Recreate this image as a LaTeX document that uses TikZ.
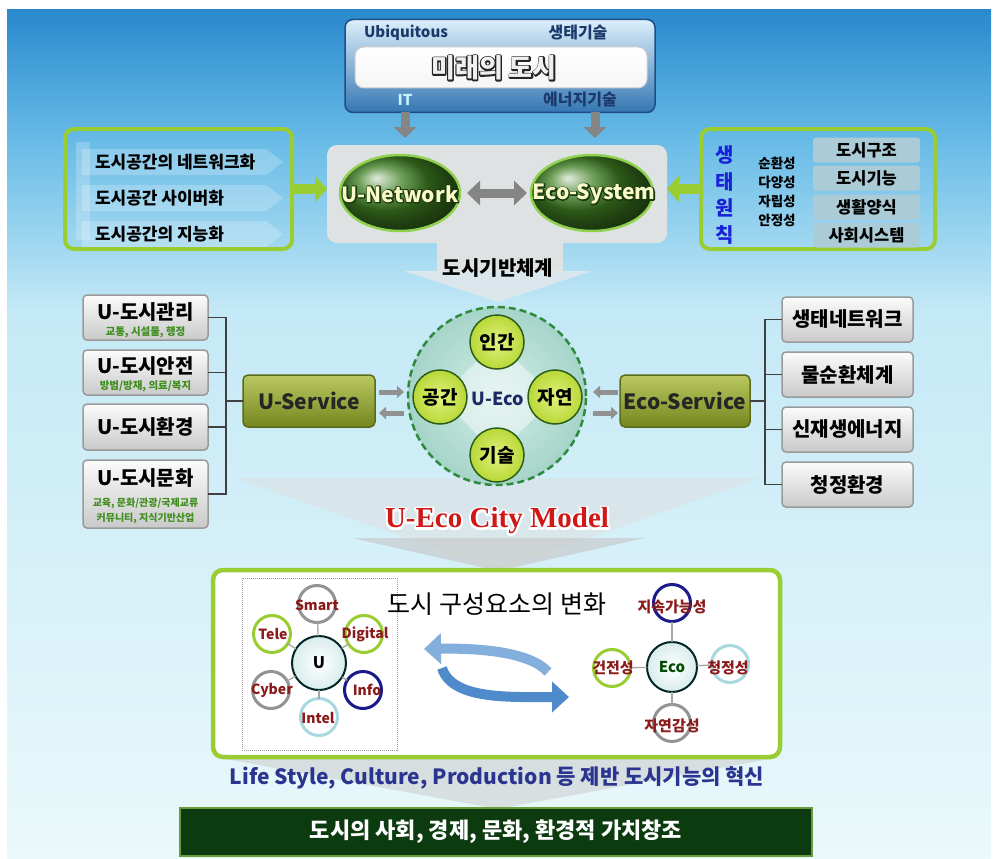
\documentclass[tikz,border=0pt]{standalone}
\usepackage{fontspec}
\setmainfont{Noto Sans CJK KR}
\newfontfamily\serifb{Liberation Serif}
\usetikzlibrary{shapes.geometric,arrows.meta}
\definecolor{bgA}{HTML}{2A89CD}
\definecolor{bgB}{HTML}{68BBE7}
\definecolor{bgC}{HTML}{C4E9F6}
\definecolor{bgD}{HTML}{EAF9FB}
\definecolor{tbTop}{HTML}{DCEFFA}
\definecolor{tbMid}{HTML}{9CC8E8}
\definecolor{tbBot}{HTML}{3576B3}
\definecolor{tbLine}{HTML}{1E4E88}
\definecolor{navyT}{HTML}{1B3A6B}
\definecolor{itC}{HTML}{C4F2FF}
\definecolor{arrG}{HTML}{858585}
\definecolor{cgray}{HTML}{DEE2E3}
\definecolor{limeG}{HTML}{9ACD32}
\definecolor{ballG}{HTML}{3F7F22}
\definecolor{rimG}{HTML}{8FD14F}
\definecolor{ylwT}{HTML}{FAFAC8}
\definecolor{boxB}{HTML}{9A9A9A}
\definecolor{subG}{HTML}{3E8E1E}
\definecolor{olvT}{HTML}{BAC862}
\definecolor{olvD}{HTML}{76861E}
\definecolor{olvB}{HTML}{5C6C16}
\definecolor{tealL}{HTML}{D2EEE7}
\definecolor{tealD}{HTML}{A6D4C9}
\definecolor{dashG}{HTML}{2E8B3E}
\definecolor{ylg1}{HTML}{E2F27E}
\definecolor{ylg2}{HTML}{B8D838}
\definecolor{dkG}{HTML}{2C5E1A}
\definecolor{ueNavy}{HTML}{1C2A66}
\definecolor{ueRed}{HTML}{D01818}
\definecolor{dkRed}{HTML}{8B1A1A}
\definecolor{bluA}{HTML}{4F8BCB}
\definecolor{lsBlue}{HTML}{2B3591}
\definecolor{barG}{HTML}{0B3B0F}
\definecolor{barB}{HTML}{6A9A3A}
\definecolor{pBlue}{HTML}{1A22D8}
\definecolor{rbox}{HTML}{ABCBD6}
\definecolor{infoN}{HTML}{1A1A8A}
\definecolor{intelB}{HTML}{A8D8E0}
\newcommand\fsz[1]{\fontsize{#1pt}{#1pt}\selectfont}
% halo text: #1 = stroke width, #2 = stroke rgb, #3 = text (stroke drawn behind the fill)
\newcommand\halo[3]{\rlap{\special{pdf:literal direct 1 j #1 w #2 RG 1 Tr}#3\special{pdf:literal direct 0 Tr}}#3}
\tikzset{
 fatgray/.style={draw=arrG,line width=9pt,-{Triangle[length=11pt,width=22pt]}},
 grnarrow/.style={draw=limeG,line width=10pt,-{Triangle[length=12pt,width=26pt]}},
 dblarrow/.style={draw=arrG,line width=9pt,{Triangle[length=13pt,width=24pt]}-{Triangle[length=13pt,width=24pt]}},
 smallarr/.style={draw=arrG!90,line width=5pt,-{Triangle[length=7pt,width=12pt]}},
 grnbox/.style={draw=limeG,line width=4pt,rounded corners=9pt,minimum width=227pt,minimum height=120pt},
 ballnode/.style={ellipse,minimum width=120pt,minimum height=76pt,ball color=ballG,draw=rimG,line width=2.5pt},
 lbox/.style={draw=boxB,line width=1.5pt,rounded corners=4pt,top color=white!97!gray,bottom color=gray!42,minimum width=125pt},
 rlbox/.style={lbox,minimum width=131pt,minimum height=45pt,font=\bfseries\fsz{20}},
 ltitle/.style={font=\bfseries\fsz{20}},
 lsub/.style={font=\bfseries\fsz{10.5},text=subG},
 svc/.style={draw=olvB,line width=1.5pt,rounded corners=5pt,top color=olvT,bottom color=olvD,minimum width=132pt,minimum height=52pt,font=\bfseries\fsz{21},text=black!85},
 bracket/.style={draw=black!75,line width=1.3pt},
 elem/.style={circle,minimum size=54pt,draw=dkG,line width=1.5pt,inner color=ylg1,outer color=ylg2,font=\bfseries\fsz{19}},
 sat/.style={circle,minimum size=37pt,line width=3pt,fill=white},
 spoke/.style={draw=gray!70,line width=1.3pt},
 hub/.style={circle,minimum size=54pt,draw=black!70!teal,line width=2pt,inner color=white,outer color=teal!15},
 slab/.style={text=dkRed,font=\bfseries\fsz{14}},
 elab/.style={text=dkRed,font=\bfseries\fsz{15}},
 bluarr/.style={draw=bluA,line width=10pt,-{Triangle[length=17pt,width=30pt]}},
 prin/.style={font=\bfseries\fsz{13.5}},
 pchar/.style={font=\bfseries\fsz{20},text=pBlue},
 rsmall/.style={fill=rbox,rounded corners=3pt,minimum width=107pt,minimum height=25pt,font=\bfseries\fsz{16.5}},
 ltext/.style={anchor=west,font=\bfseries\fsz{17}},
}
\begin{document}
\begin{tikzpicture}[x=1pt,y=-1pt,every node/.style={inner sep=0pt,outer sep=0pt}]
\useasboundingbox (0,0) rectangle (997,859);
\fill[white] (0,0) rectangle (997,859);
\shade[top color=bgA,bottom color=bgB] (7,10) rectangle (991,141);
\shade[top color=bgB,bottom color=bgC] (7,140) rectangle (991,311);
\shade[top color=bgC,bottom color=bgD] (7,310) rectangle (991,859);

% ---------- top box
\node[draw=tbLine,line width=1.5pt,rounded corners=8pt,minimum width=310pt,minimum height=93pt,top color=tbTop,middle color=tbMid,bottom color=tbBot] (tb) at (500,66) {};
\node[draw=gray!40,line width=1pt,rounded corners=9pt,minimum width=292pt,minimum height=41pt,top color=white,bottom color=white!92!gray] (tbi) at (501,67.5) {};
\node[font=\bfseries\fsz{15},text=navyT] (ubi) at (406,33) {Ubiquitous};
\node[font=\bfseries\fsz{16},text=navyT] (eco1) at (578,33) {생태기술};
\node[font=\bfseries\fsz{26},text=white!88!gray] (mirae) at (494,68) {\halo{2.6}{0.15 0.15 0.15}{미래의 도시}};
\node[font=\bfseries\fsz{15},text=itC] (it) at (405,100) {IT};
\node[font=\bfseries\fsz{16},text=navyT] (ener) at (580,100) {에너지기술};
\coordinate (enx) at (595,0);

% ---------- centre grey box
\fill[cgray] (437,235) rectangle (563,272);
\fill[cgray!80,opacity=.8] (404,271) -- (592,271) -- (498,302) -- cycle;
\node[fill=cgray,rounded corners=10pt,minimum width=340pt,minimum height=98pt] (cbox) at (497,194) {};
\node[font=\bfseries\fsz{20}] (infra) at (498,268) {도시기반체계};
\draw[fatgray,shorten >=7pt] (tb.south -| it) -- (cbox.north -| it);
\draw[fatgray,shorten >=7pt] (tb.south -| enx) -- (cbox.north -| enx);

\node[ballnode] (un) at (400,193) {};
\node[ballnode,minimum width=122pt] (es) at (592,193) {};
\draw[dblarrow,shorten <=7pt,shorten >=4pt] (un.east) -- (es.west);
\node[font=\bfseries\fsz{21},text=ylwT] (unt) at (400,194) {\halo{2.2}{0.1 0.22 0.05}{U-Network}};
\node[font=\bfseries\fsz{21},text=ylwT] (est) at (594,194) {\halo{2.2}{0.1 0.22 0.05}{Eco-System}};

% ---------- left green box
\foreach \yy in {162,198,234} \fill[white,opacity=.22] (82,\yy-13) -- (266,\yy-13) -- (283,\yy) -- (266,\yy+13) -- (82,\yy+13) -- cycle;
\fill[white,opacity=.22] (76,142) rectangle (90,240);
\node[grnbox] (lgb) at (178.5,189) {};
\node[ltext] (lt1) at (95,162) {도시공간의 네트워크화};
\node[ltext] (lt2) at (95,198) {도시공간 사이버화};
\node[ltext] (lt3) at (95,234) {도시공간의 지능화};
\draw[grnarrow] (lgb.east) -- (lgb.east -| cbox.west);

% ---------- right green box
\node[grnbox,minimum width=234pt] (rgb) at (818,189) {};
\draw[grnarrow] (rgb.west) -- (rgb.west -| cbox.east);
\node[pchar] (p1) at (725,155) {생};
\node[pchar] (p2) at (725,182) {태};
\node[pchar] (p3) at (725,208) {원};
\node[pchar] (p4) at (725,235) {칙};
\node[prin] (q1) at (777,163) {순환성};
\node[prin] (q2) at (777,182) {다양성};
\node[prin] (q3) at (777,201) {자립성};
\node[prin] (q4) at (777,220) {안정성};
\node[rsmall] (r1) at (866.5,150) {도시구조};
\node[rsmall] (r2) at (866.5,178) {도시기능};
\node[rsmall] (r3) at (866.5,207) {생활양식};
\node[rsmall] (r4) at (866.5,235) {사회시스템};

% ---------- fan under circle
\fill[gray!25,opacity=.5] (235,478) -- (760,478) -- (498,570) -- cycle;
\fill[gray!45,opacity=.6] (352,538) -- (645,538) -- (498,571) -- cycle;

% ---------- left list
\node[lbox,minimum height=45pt] (lb1) at (145.5,317.5) {};
\node[ltitle] (lb1t) at (145.5,312) {U-도시관리};
\node[lsub] (lb1s) at (145.5,332) {교통, 시설물, 행정};
\node[lbox,minimum height=45pt] (lb2) at (145.5,372.5) {};
\node[ltitle] (lb2t) at (145.5,366) {U-도시안전};
\node[lsub] (lb2s) at (145.5,386) {방범/방재, 의료/복지};
\node[lbox,minimum height=46pt] (lb3) at (145.5,427) {};
\node[ltitle] (lb3t) at (145.5,427) {U-도시환경};
\node[lbox,minimum height=68pt] (lb4) at (145.5,494) {};
\node[ltitle] (lb4t) at (145.5,478) {U-도시문화};
\node[align=center,font=\bfseries\fsz{10},text=subG] (lb4s) at (145.5,511) {교육, 문화/관광/국제교류\\[3pt]커뮤니티, 지식기반산업};
\node[svc] (us) at (309,401) {U-Service};
\coordinate (lbus) at (226,0);
\draw[bracket] (lb1.east) -- (lb1.east -| lbus) -- (lb4.east -| lbus) -- (lb4.east);
\draw[bracket] (lb2.east) -- (lb2.east -| lbus);
\draw[bracket] (lb3.east) -- (lb3.east -| lbus);
\draw[bracket] (us.west) -- (us.west -| lbus);

% ---------- right list
\node[rlbox] (rb1) at (847.5,319.5) {생태네트워크};
\node[rlbox] (rb2) at (847.5,374.5) {물순환체계};
\node[rlbox] (rb3) at (847.5,429.5) {신재생에너지};
\node[rlbox] (rb4) at (847.5,484.5) {청정환경};
\node[svc,minimum width=130pt] (esv) at (685,401) {Eco-Service};
\coordinate (rbus) at (765,0);
\draw[bracket] (rb1.west) -- (rb1.west -| rbus) -- (rb4.west -| rbus) -- (rb4.west);
\draw[bracket] (rb2.west) -- (rb2.west -| rbus);
\draw[bracket] (rb3.west) -- (rb3.west -| rbus);
\draw[bracket] (esv.east) -- (esv.east -| rbus);

% ---------- centre circle
\node[circle,minimum size=178pt,draw=dashG,line width=2.5pt,dash pattern=on 7pt off 4pt,inner color=tealL,outer color=tealD] (cc) at (497,396) {};
\coordinate (dN) at (497,342);
\coordinate (dE) at (555,397);
\coordinate (dS) at (497,455);
\coordinate (dW) at (440,397);
\fill[white,opacity=.45] (dN) -- (dE) -- (dS) -- (dW) -- cycle;
\node[elem] (in) at (dN) {인간};
\node[elem] (ja) at (dE) {자연};
\node[elem] (gi) at (dS) {기술};
\node[elem] (gong) at (dW) {공간};
\node[font=\bfseries\fsz{18},text=ueNavy] (ueco) at (498,399) {U-Eco};

\coordinate (la1) at (379,392); \coordinate (la2) at (404,392);
\coordinate (la3) at (404,413); \coordinate (la4) at (379,413);
\coordinate (ra1) at (618,392); \coordinate (ra2) at (593,392);
\coordinate (ra3) at (593,413); \coordinate (ra4) at (618,413);
\draw[smallarr] (la1) -- (la2);
\draw[smallarr] (la3) -- (la4);
\draw[smallarr] (ra1) -- (ra2);
\draw[smallarr] (ra3) -- (ra4);

\node[font=\serifb\bfseries\fsz{29},text=ueRed] (model) at (497,521) {\halo{4}{1 1 1}{U-Eco City Model}};

% ---------- bottom
\fill[gray!40,opacity=.55] (215,757) -- (780,757) -- (498,809) -- cycle;
\node[draw=limeG,line width=4.5pt,rounded corners=10pt,fill=white,minimum width=567pt,minimum height=187pt] (bb) at (496.5,663.5) {};
\node[draw=gray!80,densely dotted,line width=1pt,minimum width=155pt,minimum height=172pt] (dr) at (319.5,664) {};
\node[font=\fsz{25}] (chg) at (497,604) {도시 구성요소의 변화};

% U diagram
\node[hub,font=\bfseries\fsz{16}] (uc) at (319,663) {U};
\node[sat,draw=gray!85] (sm) at (317,604) {};
\node[sat,draw=limeG] (te) at (272,634) {};
\node[sat,draw=limeG] (di) at (364,634) {};
\node[sat,draw=gray!85] (cy) at (271,690) {};
\node[sat,draw=infoN] (inf) at (363,690) {};
\node[sat,draw=intelB] (intl) at (319,717) {};
\foreach \s in {sm,te,di,cy,inf,intl} \draw[spoke] (uc) -- (\s);
\node[slab] (sml) at (317,605) {Smart};
\node[slab] (tel) at (273,634) {Tele};
\node[slab] (dil) at (365,634) {Digital};
\node[slab] (cyl) at (272,690) {Cyber};
\node[slab] (infl) at (367,690) {Info};
\node[slab] (intll) at (318,718) {Intel};

% swap arrows
\coordinate (ba1s) at (548,672); \coordinate (ba1e) at (424,649);
\coordinate (ba2s) at (442,668); \coordinate (ba2e) at (569,697);
\draw[bluarr,draw=bluA!70] (ba1s) .. controls (530,652) and (480,648) .. (ba1e);
\draw[bluarr] (ba2s) .. controls (452,700) and (510,697) .. (ba2e);

% Eco diagram
\node[hub,font=\bfseries\fsz{15},text=black!70!green,minimum size=50pt] (ec) at (672,667) {Eco};
\node[sat,draw=infoN] (e1) at (672,603) {};
\node[sat,draw=limeG] (e2) at (612,668) {};
\node[sat,draw=intelB] (e3) at (730,664) {};
\node[sat,draw=gray!85] (e4) at (672,723) {};
\foreach \s in {e1,e2,e3,e4} \draw[spoke] (ec) -- (\s);
\node[elab] (e1l) at (672,607) {지속가능성};
\node[elab] (e2l) at (613,668) {건전성};
\node[elab] (e3l) at (728,668) {청정성};
\node[elab] (e4l) at (672,726) {자연감성};

\node[font=\bfseries\fsz{21},text=lsBlue] (ls) at (497,778) {Life Style, Culture, Production 등 제반 도시기능의 혁신};
\node[draw=barB,line width=2pt,fill=barG,minimum width=632pt,minimum height=48pt,text=white,font=\bfseries\fsz{22}] (bar) at (496,832) {도시의 사회, 경제, 문화, 환경적 가치창조};
\end{tikzpicture}
\end{document}
